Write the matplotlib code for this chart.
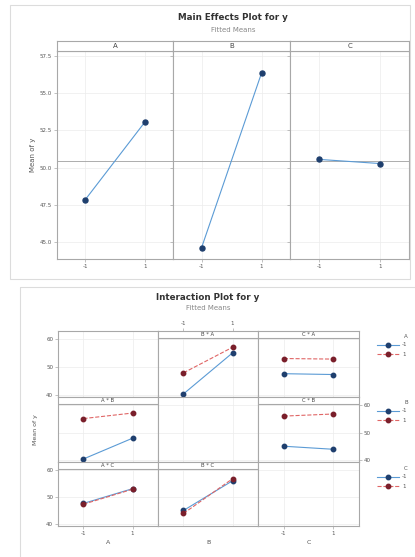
import matplotlib
matplotlib.use('Agg')
import matplotlib.pyplot as plt
from matplotlib.patches import Rectangle
import numpy as np

W, H = 415, 557
BLUE_LN = "#5b9bd5"
NAVY    = "#1f3f6e"
RED_LN  = "#e06666"
MAROON  = "#7a1f2b"
SPINE   = "#a8a8a8"
GRID    = "#ececec"
TXT     = "#555555"

# ── data ──────────────────────────────────────────────────────────────────────
factors = ["A", "B", "C"]
levels = [-1, 1]
level_labels = ["-1", "1"]

# main effects (fitted means at -1, 1)
mean_A = [47.84, 53.05]
mean_B = [44.60, 56.35]
mean_C = [50.55, 50.27]
main_means = [mean_A, mean_B, mean_C]

# two-way cell means, rows = first factor level, cols = second factor level
cell_AB = [[40.5, 55.1], [48.0, 57.1]]
cell_AC = [[47.7, 47.4], [53.1, 52.9]]
cell_BC = [[45.1, 44.0], [56.0, 56.75]]
cells = {("A", "B"): cell_AB, ("A", "C"): cell_AC, ("B", "C"): cell_BC}

main_yticks = [45.0, 47.5, 50.0, 52.5, 55.0, 57.5]
inter_yticks = [40, 50, 60]


def cell_mean(f1, i, f2, j):
    if (f1, f2) in cells:
        return cells[(f1, f2)][i][j]
    return cells[(f2, f1)][j][i]


def rect(x0, y0, x1, y1):
    return [x0 / W, 1 - y1 / H, (x1 - x0) / W, (y1 - y0) / H]


def style(ax):
    for s in ax.spines.values():
        s.set_color(SPINE); s.set_linewidth(0.8)
    ax.tick_params(length=2, width=0.5, color=SPINE, labelsize=4, labelcolor=TXT, pad=1.5)
    ax.grid(True, color=GRID, lw=0.5)
    ax.set_axisbelow(True)


fig = plt.figure(figsize=(W / 100, H / 100), dpi=100)
fig.patch.set_facecolor("white")

# ── main effects plot ─────────────────────────────────────────────────────────
grand = np.mean(main_means)
panel_x = [(57, 173), (173, 290), (290, 409)]
for k, f in enumerate(factors):
    x0, x1 = panel_x[k]
    ax = fig.add_axes(rect(x0, 51, x1, 259))
    ax.plot(levels, main_means[k], color=BLUE_LN, lw=0.8, marker="o", ms=3.6,
            mfc=NAVY, mec=NAVY, zorder=3)
    ax.axhline(grand, color="#a0a0a0", lw=0.6, zorder=2)
    ax.set_xlim(-1.95, 1.95)
    ax.set_ylim(43.85, 57.84)
    ax.set_xticks(levels)
    ax.set_xticklabels(level_labels)
    ax.set_yticks(main_yticks)
    if k == 0:
        ax.set_yticklabels([f"{v:.1f}" for v in main_yticks])
        ax.set_ylabel("Mean of y", fontsize=5, color=TXT, labelpad=3)
    else:
        ax.tick_params(axis="y", length=0, labelleft=False)
    style(ax)
    sax = fig.add_axes(rect(x0, 41, x1, 51))
    sax.set_xticks([]); sax.set_yticks([])
    for s in sax.spines.values():
        s.set_color(SPINE); s.set_linewidth(0.8)
    sax.text(0.5, 0.5, f, ha="center", va="center", fontsize=5, color="#444444",
             transform=sax.transAxes)

# ── interaction plot ──────────────────────────────────────────────────────────
rows_y = [(331, 397), (397, 462), (462, 526)]
cols_x = [(58, 158), (158, 258), (258, 359)]
trace_styles = [dict(color=BLUE_LN, ls="-", mfc=NAVY, mec=NAVY),
                dict(color=RED_LN, ls="--", mfc=MAROON, mec=MAROON)]

for r, ftr in enumerate(factors):
    y0, y1 = rows_y[r]
    h = y1 - y0
    for c, fx in enumerate(factors):
        x0, x1 = cols_x[c]
        ax = fig.add_axes(rect(x0, y0, x1, y1))
        ax.set_xlim(-2.04, 2.04)
        ax.set_ylim(39.4, 62.9)
        ax.set_xticks(levels)
        ax.set_yticks(inter_yticks)
        style(ax)
        ax.tick_params(labelleft=False, labelbottom=False, left=False, bottom=False)
        if fx != ftr:
            for j, st in enumerate(trace_styles):
                vals = [cell_mean(fx, i, ftr, j) for i in range(2)]
                ax.plot(levels, vals, color=st["color"], ls=st["ls"], lw=0.8,
                        marker="o", ms=3.2, mfc=st["mfc"], mec=st["mec"], zorder=3)
            sh = 7 / h
            ax.add_patch(Rectangle((0, 1 - sh), 1, sh, transform=ax.transAxes,
                                   facecolor="white", edgecolor="none", zorder=2.2))
            ax.axhline(62.9 - 7 * 23.5 / h, color=SPINE, lw=0.8, zorder=2.4)
            ax.text(0.5, 1 - sh / 2, f"{fx} * {ftr}", ha="center", va="center",
                    fontsize=3.8, color="#444444", transform=ax.transAxes, zorder=6)
        # tick labels on alternating sides
        if c == 0 and r in (0, 2):
            ax.tick_params(axis="y", left=True, labelleft=True)
        if c == 2 and r == 1:
            ax.tick_params(axis="y", right=True, labelright=True)
        if r == 2 and c in (0, 2):
            ax.tick_params(axis="x", bottom=True, labelbottom=True)
            ax.set_xticklabels(level_labels)
        if r == 0 and c == 1:
            ax.tick_params(axis="x", top=True, labeltop=True)
            ax.set_xticklabels(level_labels)

# ── overlay: frames, titles, legends ──────────────────────────────────────────
ov = fig.add_axes([0, 0, 1, 1])
ov.set_xlim(0, W); ov.set_ylim(H, 0)
ov.axis("off")
ov.add_patch(Rectangle((10, 5), 400, 274, facecolor="none", edgecolor="#dcdcdc", lw=0.8))
ov.add_patch(Rectangle((20, 287), 410, 275, facecolor="none", edgecolor="#dcdcdc", lw=0.8))

ov.text(233, 18, "Main Effects Plot for y", ha="center", va="center", fontsize=6.3,
        color="#333333", fontweight="bold")
ov.text(233, 30, "Fitted Means", ha="center", va="center", fontsize=5, color="#888888")
ov.text(208, 297, "Interaction Plot for y", ha="center", va="center", fontsize=6.3,
        color="#333333", fontweight="bold")
ov.text(208, 308, "Fitted Means", ha="center", va="center", fontsize=5, color="#888888")

ov.text(35, 430, "Mean of y", ha="center", va="center", rotation=90, fontsize=4.5,
        color=TXT)
for c, f in enumerate(factors):
    ov.text((cols_x[c][0] + cols_x[c][1]) / 2, 543, f, ha="center", va="center",
            fontsize=4.5, color=TXT)

legend_y = [(336, 345, 354), (402, 411, 420), (468, 477, 486)]
for r, f in enumerate(factors):
    ty, e1, e2 = legend_y[r]
    ov.text(404, ty, f, ha="left", va="center", fontsize=4, color=TXT)
    for ey, st, lab in zip((e1, e2), trace_styles, level_labels):
        ov.plot([377, 399], [ey, ey], color=st["color"], ls=st["ls"], lw=0.8)
        ov.plot([388], [ey], marker="o", ms=3.2, mfc=st["mfc"], mec=st["mec"], ls="none")
        ov.text(402, ey, lab, ha="left", va="center", fontsize=4, color=TXT)

plt.savefig("out.png", dpi=100, facecolor="white")
plt.close()
